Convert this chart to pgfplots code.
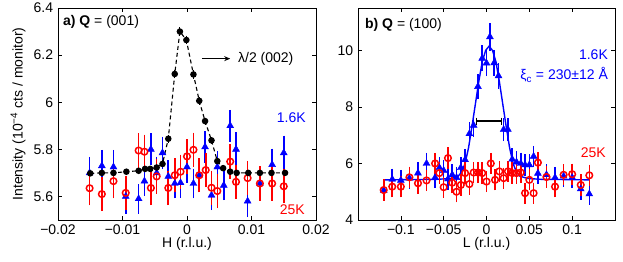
\documentclass[border=0pt]{standalone}
\usepackage{fontspec}
\setmainfont{Liberation Sans}
\usepackage{pgfplots}
\usepackage{pgfplotstable}
\usetikzlibrary{arrows.meta}
\pgfplotsset{compat=1.18}

\pgfplotstableread{
x y e
-0.0151 5.700 0.055
-0.0132 5.730 0.055
-0.0114 5.725 0.060
-0.0095 5.600 0.060
-0.0075 5.590 0.050
-0.0066 5.665 0.050
-0.0056 5.800 0.055
-0.0047 5.700 0.055
-0.0038 5.785 0.055
-0.0029 5.685 0.055
-0.0019 5.655 0.050
-0.0010 5.658 0.050
0.0000 5.725 0.055
0.0010 5.655 0.050
0.0019 5.690 0.050
0.0028 5.810 0.055
0.0038 5.605 0.050
0.0047 5.725 0.055
0.0057 5.647 0.050
0.0067 5.900 0.055
0.0076 5.800 0.060
0.0094 5.580 0.055
0.0113 5.655 0.050
0.0132 5.735 0.055
0.0150 5.785 0.060
}\leftblue

\pgfplotstableread{
x y e
-0.0151 5.635 0.060
-0.0132 5.610 0.060
-0.0114 5.665 0.060
-0.0095 5.615 0.060
-0.0075 5.795 0.060
-0.0066 5.790 0.060
-0.0056 5.636 0.060
-0.0047 5.685 0.060
-0.0029 5.636 0.060
-0.0019 5.690 0.060
-0.0010 5.705 0.060
0.0000 5.770 0.060
0.0010 5.798 0.060
0.0019 5.690 0.060
0.0029 5.712 0.060
0.0038 5.637 0.060
0.0047 5.623 0.060
0.0067 5.748 0.060
0.0076 5.662 0.060
0.0094 5.678 0.060
0.0113 5.655 0.060
0.0132 5.655 0.060
0.0150 5.643 0.060
}\leftred

\pgfplotstableread{
x y e
-0.0150 5.698 0.005
-0.0132 5.700 0.005
-0.0114 5.700 0.005
-0.0094 5.705 0.005
-0.0075 5.709 0.005
-0.0065 5.717 0.005
-0.0057 5.717 0.005
-0.0047 5.723 0.005
-0.0038 5.738 0.008
-0.0029 5.845 0.010
-0.0019 6.120 0.012
-0.0011 6.300 0.012
-0.0001 6.264 0.012
0.0010 6.118 0.012
0.0019 6.006 0.010
0.0028 5.920 0.008
0.0038 5.838 0.008
0.0047 5.750 0.008
0.0056 5.720 0.005
0.0067 5.705 0.005
0.0077 5.700 0.005
0.0095 5.700 0.005
0.0113 5.700 0.005
0.0131 5.700 0.005
0.0152 5.700 0.005
}\leftblack

\pgfplotstableread{
x y e
-0.120 5.05 0.27
-0.110 5.44 0.27
-0.100 5.40 0.27
-0.090 5.48 0.27
-0.080 5.66 0.27
-0.070 6.00 0.27
-0.060 5.50 0.27
-0.055 5.85 0.27
-0.050 5.75 0.27
-0.045 5.45 0.27
-0.040 5.60 0.27
-0.035 5.50 0.27
-0.030 5.85 0.27
-0.025 6.13 0.28
-0.020 7.05 0.30
-0.015 7.35 0.30
-0.010 8.72 0.33
-0.005 9.72 0.35
0.000 9.55 0.35
0.004 10.48 0.38
0.009 9.56 0.35
0.014 9.10 0.35
0.020 7.20 0.30
0.025 7.20 0.30
0.030 6.15 0.28
0.035 6.05 0.28
0.040 6.00 0.28
0.045 5.95 0.27
0.050 5.95 0.27
0.055 6.25 0.27
0.060 5.65 0.27
0.070 5.60 0.27
0.080 5.50 0.27
0.090 5.55 0.27
0.100 5.50 0.27
0.110 5.10 0.27
0.120 4.92 0.27
}\rightblue

\pgfplotstableread{
x y e
-0.120 5.06 0.27
-0.110 5.18 0.27
-0.100 5.18 0.27
-0.090 5.51 0.27
-0.080 5.30 0.27
-0.070 5.40 0.27
-0.060 6.00 0.27
-0.055 5.66 0.27
-0.050 5.16 0.27
-0.045 6.19 0.27
-0.040 5.32 0.27
-0.035 5.00 0.27
-0.030 5.24 0.27
-0.025 5.66 0.27
-0.020 5.27 0.27
-0.015 5.68 0.27
-0.010 5.68 0.27
-0.005 5.66 0.27
0.000 5.36 0.27
0.005 6.00 0.27
0.010 5.42 0.27
0.015 5.72 0.27
0.020 5.48 0.27
0.025 5.72 0.27
0.030 5.66 0.27
0.035 5.66 0.27
0.040 5.68 0.27
0.045 4.95 0.27
0.050 5.42 0.27
0.055 4.95 0.27
0.060 6.03 0.27
0.070 5.52 0.27
0.080 5.18 0.27
0.090 5.60 0.27
0.100 5.62 0.27
0.110 5.24 0.27
0.120 5.58 0.27
}\rightred

\pgfplotstableread{
x y
-0.120 5.42
-0.057 5.44
-0.042 5.47
-0.033 5.55
-0.029 5.70
-0.025 6.00
-0.021 6.55
-0.017 7.30
-0.013 8.10
-0.009 8.90
-0.005 9.60
-0.001 10.00
0.003 10.15
0.007 10.00
0.011 9.60
0.015 8.90
0.019 8.10
0.023 7.30
0.027 6.55
0.031 6.00
0.035 5.70
0.039 5.55
0.048 5.47
0.063 5.44
0.120 5.42
}\rightfit

\pgfplotsset{
  myaxis/.style={
    scale only axis,
    anchor=south west,
    height=212pt,
    major tick length=4pt,
    tick style={black, line width=0.5pt},
    axis line style={black, line width=0.6pt},
    minor tick num=0,
    scaled ticks=false,
    tick label style={font=\fontsize{14}{16}\selectfont},
    label style={font=\fontsize{14}{16}\selectfont},
    clip=false,
  },
  blueerr/.style={blue, only marks, mark=triangle*, mark size=4pt,
    mark options={fill=blue, line width=0.4pt},
    error bars/.cd, y dir=both, y explicit,
    error bar style={line width=1.6pt, blue},
    error mark options={line width=1.6pt, mark size=3pt, blue}},
  rederr/.style={red, only marks, mark=o, mark size=3.3pt,
    mark options={line width=1.5pt},
    error bars/.cd, y dir=both, y explicit,
    error bar style={line width=1.6pt, red},
    error mark options={line width=1.6pt, mark size=3pt, red}},
}

\begin{document}
\fontsize{14}{16}\selectfont
\begin{tikzpicture}
\useasboundingbox (0pt,0pt) rectangle (623pt,262pt);

\begin{axis}[myaxis, at={(58pt,42pt)}, width=258pt,
  xmin=-0.02, xmax=0.02, ymin=5.5, ymax=6.4,
  xtick={-0.02,-0.01,0,0.01,0.02},
  xticklabels={−0.02,−0.01,0,0.01,0.02},
  ytick={5.6,5.8,6,6.2,6.4},
  yticklabels={5.6,5.8,6,6.2,6.4},
  xlabel={H (r.l.u.)},
  ylabel={Intensity (10\textsuperscript{−4} cts / monitor)},
  xlabel style={at={(axis description cs:0.5,0)}, anchor=center, yshift=-24pt},
  ylabel style={at={(axis description cs:-0.155,0.5)}, anchor=center, rotate=0},
]
\addplot+[blueerr] table[x=x, y=y, y error=e] {\leftblue};
\addplot+[rederr] table[x=x, y=y, y error=e] {\leftred};
\addplot+[black, dash pattern=on 4pt off 3pt, line width=1.1pt, mark=*, mark size=2.7pt,
  mark options={solid, fill=black},
  error bars/.cd, y dir=both, y explicit,
  error bar style={solid, line width=1.1pt, black},
  error mark options={solid, line width=1.1pt, mark size=1.6pt, black}]
  table[x=x, y=y, y error=e] {\leftblack};
\draw[-{Stealth[length=6pt,width=5pt]}, line width=0.9pt] (axis cs:0.0023,6.185) -- (axis cs:0.0067,6.185);
\node[anchor=west, inner sep=0pt] at (axis cs:0.0079,6.185) {λ/2 (002)};
\node[anchor=west, inner sep=0pt] at (axis description cs:0.019,0.934) {\textbf{a)} \textbf{Q} = (001)};
\node[anchor=east, inner sep=0pt, text=blue] at (axis description cs:0.961,0.481) {1.6K};
\node[anchor=east, inner sep=0pt, text=red] at (axis description cs:0.957,0.047) {25K};
\end{axis}

\begin{axis}[myaxis, at={(358pt,42pt)}, width=257pt,
  xmin=-0.15, xmax=0.15, ymin=4, ymax=11.5,
  xtick={-0.1,-0.05,0,0.05,0.1},
  xticklabels={−0.1,−0.05,0,0.05,0.1},
  ytick={4,6,8,10},
  yticklabels={4,6,8,10},
  xlabel={L (r.l.u.)},
  xlabel style={at={(axis description cs:0.5,0)}, anchor=center, yshift=-24pt},
]
\addplot[blue, line width=1.4pt, no marks] table[x=x, y=y] {\rightfit};
\addplot+[blueerr] table[x=x, y=y, y error=e] {\rightblue};
\addplot+[rederr] table[x=x, y=y, y error=e] {\rightred};
\addplot[black, line width=1.2pt, mark=|, mark size=3.5pt, mark options={solid}] coordinates {(-0.0115,7.5) (0.0175,7.5)};
\node[anchor=west, inner sep=0pt] at (axis description cs:0.027,0.92) {\textbf{b)} \textbf{Q} = (100)};
\node[anchor=east, inner sep=0pt, text=blue] at (axis description cs:0.973,0.778) {1.6K};
\node[anchor=east, inner sep=0pt, text=blue] at (axis description cs:0.973,0.684) {ξ\textsubscript{c} = 230±12 Å};
\node[anchor=east, inner sep=0pt, text=red] at (axis description cs:0.965,0.316) {25K};
\end{axis}
\end{tikzpicture}
\end{document}
